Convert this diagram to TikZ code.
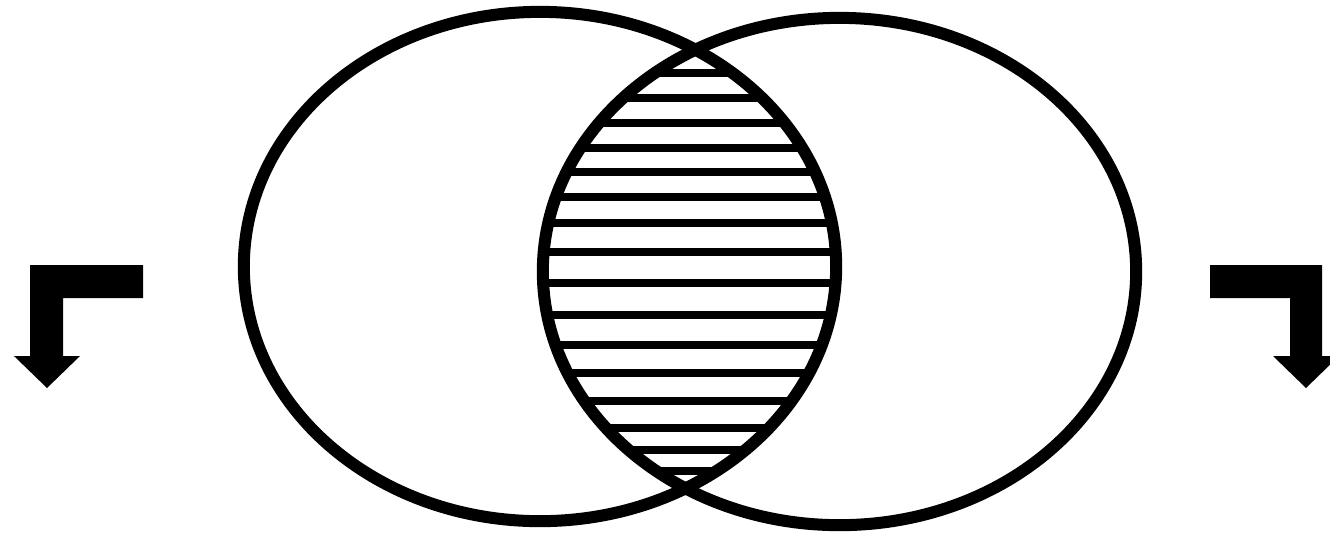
\documentclass[tikz,border=0pt]{standalone}
\begin{document}
\begin{tikzpicture}[x=0.01cm,y=-0.01cm,
  ring/.style={draw=black,line width=0.12cm},
  hatch/.style={draw=black,line width=0.08cm},
  bentarrow/.style={fill=black,draw=none}]
\useasboundingbox (0,0) rectangle (1330,535);
\coordinate (cl) at (540,266.5);
\coordinate (cr) at (839.5,271.5);
% hatching inside the lens
\begin{scope}
  \clip (cl) ellipse [x radius=2.96cm, y radius=2.545cm];
  \clip (cr) ellipse [x radius=2.965cm, y radius=2.535cm];
  \foreach \yy in {73,98,123,148,172,197,223,252,283,315,345,373,401,428,450,471}
    \draw[hatch] (500,\yy) -- (900,\yy);
\end{scope}
% ellipses
\draw[ring] (cl) ellipse [x radius=2.96cm, y radius=2.545cm];
\draw[ring] (cr) ellipse [x radius=2.965cm, y radius=2.535cm];
% bent arrows
\fill[bentarrow] (143,265) -- (30,265) -- (30,356) -- (14,356) -- (47,388) -- (80,356) -- (63,356) -- (63,298) -- (143,298) -- cycle;
\fill[bentarrow] (1210,265) -- (1322,265) -- (1322,356) -- (1339,356) -- (1306,388) -- (1273,356) -- (1290,356) -- (1290,298) -- (1210,298) -- cycle;
\end{tikzpicture}
\end{document}
